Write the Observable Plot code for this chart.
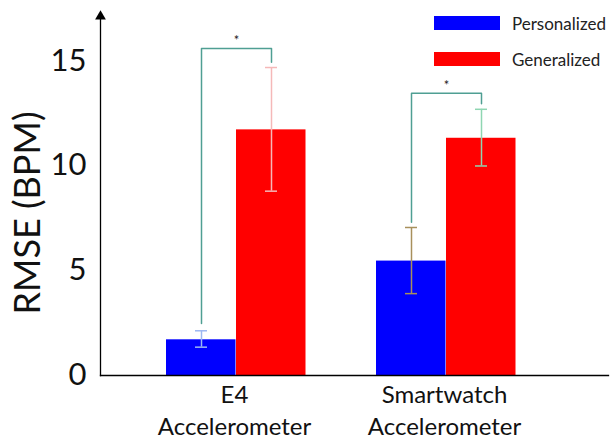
<!DOCTYPE html>
<html><head><meta charset="utf-8">
<script src="https://cdn.jsdelivr.net/npm/d3@7"></script>
<script src="https://cdn.jsdelivr.net/npm/@observablehq/plot@0.6"></script>
<style>
body{margin:0;background:#fff;}
#wrap{position:relative;width:610px;height:443px;font-family:Lato,sans-serif;}
.legend{position:absolute;left:434px;height:14px;font-size:17px;color:#222;display:flex;align-items:center;white-space:nowrap;}
.legend .sw{display:inline-block;width:66px;height:14px;margin-right:12px;}
</style></head><body><div id="wrap"></div>
<script>
const groups = ["E4\nAccelerometer", "Smartwatch\nAccelerometer"];
const seriesNames = ["Personalized", "Generalized"];
const personalized = [1.7, 5.45];
const generalized = [11.7, 11.3];
const personalizedLow = [1.35, 3.9];
const personalizedHigh = [2.13, 7.05];
const generalizedLow = [8.78, 9.98];
const generalizedHigh = [14.67, 12.68];
const bracketTop = [15.57, 13.44];
const bracketLeftEnd = [2.48, 7.3];
const bracketRightEnd = [14.92, 12.94];
const sigLabels = ["*", "*"];
const yTicks = [0, 5, 10, 15];
const yTitle = "RMSE (BPM)";
const seriesColors = ["#0000ff", "#ff0000"];
const errColors = [["#9db8f2", "#f5b8b8"], ["#a8905c", "#8fd6b2"]];
const bracketColor = "#4f9f93";

const key = (gi, si) => groups[gi] + "|" + seriesNames[si];
const xDomain = [key(0, 0), key(0, 1), "gap", key(1, 0), key(1, 1)];
const values = [personalized, generalized];
const lows = [personalizedLow, generalizedLow];
const highs = [personalizedHigh, generalizedHigh];
const bars = [];
groups.forEach((g, gi) => seriesNames.forEach((s, si) => bars.push({
  key: key(gi, si), group: g, series: s, value: values[si][gi],
  lo: lows[si][gi], hi: highs[si][gi], fill: seriesColors[si], err: errColors[gi][si]
})));
const brackets = [];
groups.forEach((g, gi) => {
  brackets.push({g, x: key(gi, 0), y: bracketLeftEnd[gi]});
  brackets.push({g, x: key(gi, 0), y: bracketTop[gi]});
  brackets.push({g, x: key(gi, 1), y: bracketTop[gi]});
  brackets.push({g, x: key(gi, 1), y: bracketRightEnd[gi]});
});

const chart = Plot.plot({
  width: 610, height: 443,
  marginLeft: 100, marginRight: 2, marginTop: 16, marginBottom: 68,
  style: {fontFamily: "Lato, sans-serif", background: "white", color: "black", overflow: "visible"},
  x: {domain: xDomain, padding: 0, insetLeft: 64, insetRight: 91, axis: null},
  y: {domain: [0, 17.1], axis: null},
  marks: [
    Plot.barY(bars, {x: "key", y: "value", fill: "fill", insetRight: 0.5}),
    Plot.ruleX(bars, {x: "key", y1: "lo", y2: "hi", stroke: "err", strokeWidth: 1.5}),
    Plot.tickY(bars, {x: "key", y: "lo", stroke: "err", strokeWidth: 1.5, insetLeft: 29, insetRight: 29}),
    Plot.tickY(bars, {x: "key", y: "hi", stroke: "err", strokeWidth: 1.5, insetLeft: 29, insetRight: 29}),
    Plot.line(brackets, {x: "x", y: "y", z: "g", stroke: bracketColor, strokeWidth: 1.5}),
    Plot.text(groups, {x: (g, i) => key(i, 0), y: (g, i) => bracketTop[i], text: (g, i) => sigLabels[i], dx: 35, dy: -8, fontSize: 13, fill: "#222"}),
    Plot.text(groups, {x: (g, i) => key(i, 0), text: d => d, frameAnchor: "bottom", lineAnchor: "top", dx: 33, dy: 5, fontSize: 24, lineHeight: 1.33, fill: "#111"}),
    Plot.axisY({ticks: yTicks, tickSize: 0, tickPadding: 14, fontSize: 31, label: null, fill: "#111"}),
    Plot.frame({anchor: "left", strokeWidth: 1.3}),
    Plot.frame({anchor: "bottom", strokeWidth: 1.3}),
    Plot.dot([0], {frameAnchor: "top-left", symbol: "triangle", r: 4, fill: "black", stroke: null}),
    Plot.text([yTitle], {frameAnchor: "left", textAnchor: "middle", rotate: -90, dx: -72, dy: 17, fontSize: 36, fill: "#111"})
  ]
});
const wrap = document.getElementById("wrap");
wrap.appendChild(chart);
seriesNames.forEach((s, i) => {
  const row = document.createElement("div");
  row.className = "legend";
  row.style.top = (16 + i * 36) + "px";
  const sw = document.createElement("span");
  sw.className = "sw";
  sw.style.background = seriesColors[i];
  row.appendChild(sw);
  row.appendChild(document.createTextNode(s));
  wrap.appendChild(row);
});
</script></body></html>
